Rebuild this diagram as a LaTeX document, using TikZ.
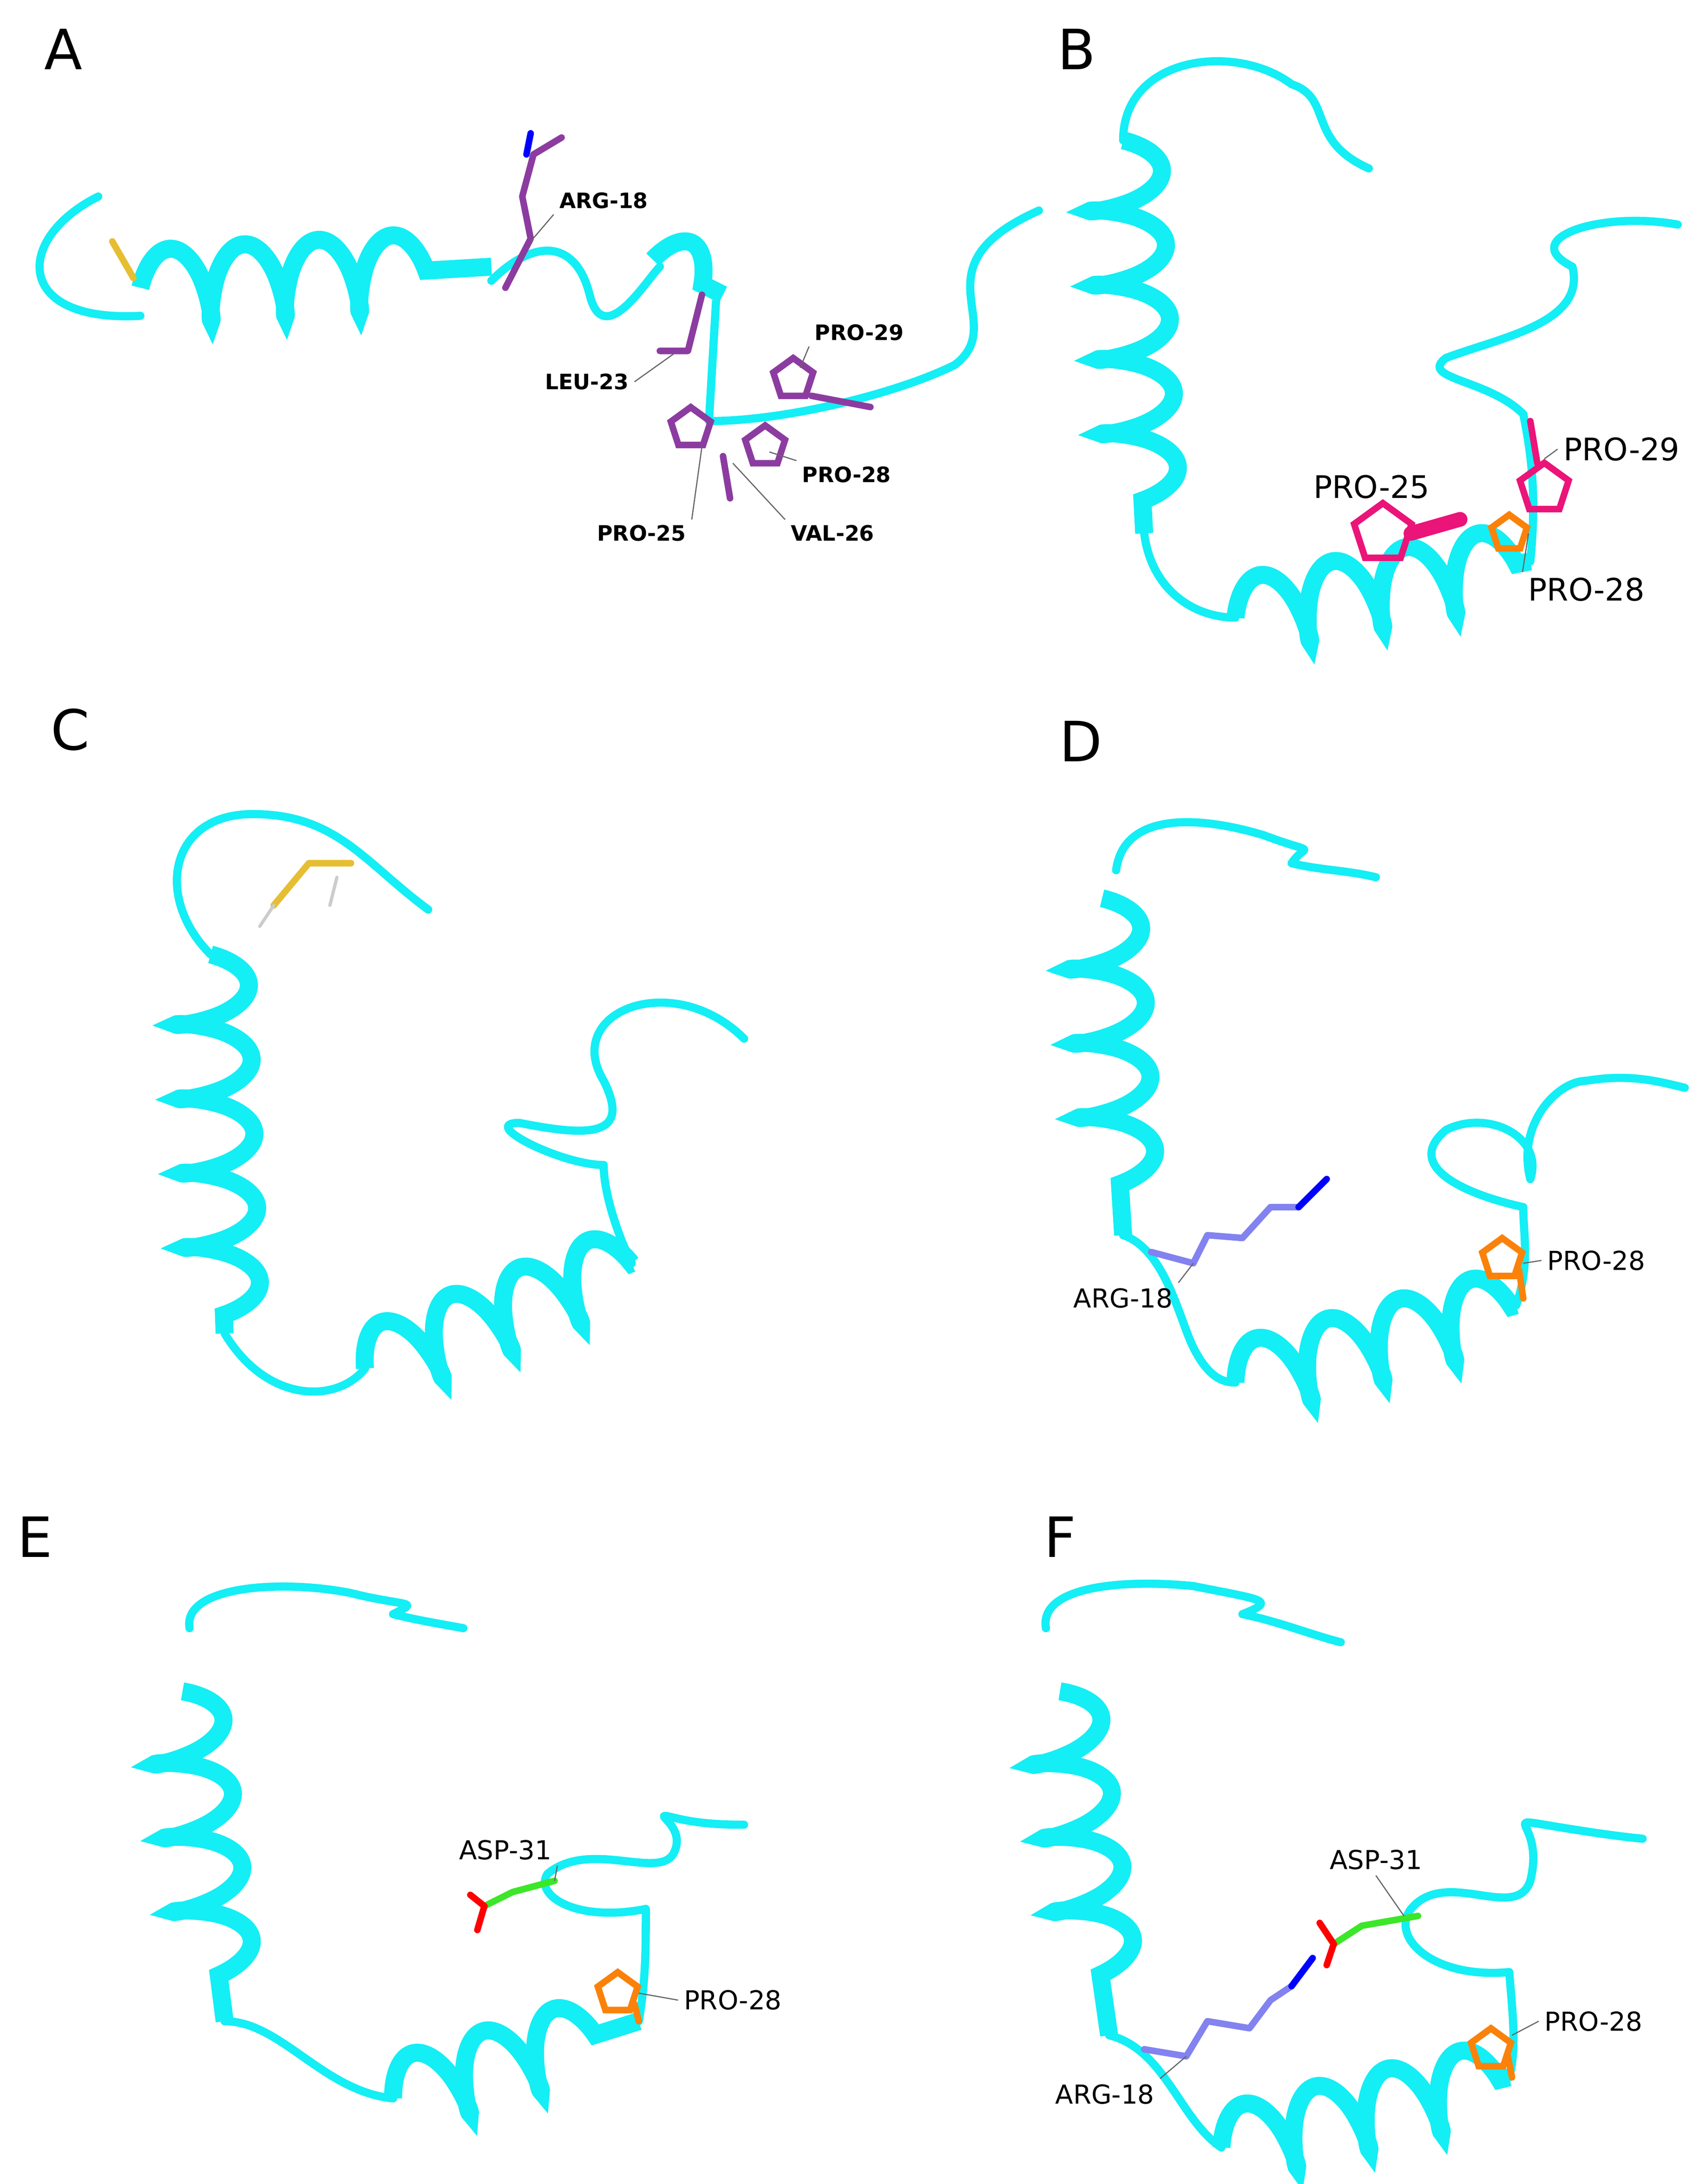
\documentclass[tikz,border=0pt]{standalone}
\usepackage{fontspec}
\setmainfont{DejaVu Sans}
\usetikzlibrary{decorations.pathmorphing,shapes.geometric}
\definecolor{ribbon}{RGB}{20,238,245}
\definecolor{resA}{RGB}{140,60,160}
\definecolor{resPink}{RGB}{235,20,120}
\definecolor{resOrange}{RGB}{250,130,10}
\definecolor{resArg}{RGB}{130,130,240}
\definecolor{resAsp}{RGB}{60,230,40}
\definecolor{resCys}{RGB}{230,190,50}
\tikzset{
  loop/.style={draw=ribbon,line width=5pt,line cap=round,line join=round},
  helix/.style={draw=ribbon,line width=11pt,decorate,
    decoration={coil,aspect=0.35,amplitude=0.8cm,segment length=1.6cm,post length=0pt,pre length=0pt}},
  stick/.style={line width=4pt,line cap=round,line join=round},
  pent/.style={regular polygon,regular polygon sides=5,draw,line width=4pt,minimum size=0.9cm,inner sep=0pt},
  letter/.style={font=\fontsize{34}{40}\selectfont},
  lab/.style={font=\fontsize{16}{18}\selectfont},
  labA/.style={font=\bfseries\fontsize{13}{16}\selectfont},
  lead/.style={draw=black!60,line width=0.7pt}
}
\begin{document}
\begin{tikzpicture}[x=0.0302cm,y=-0.0302cm]
\useasboundingbox (0,0) rectangle (1210,1556);

% Panel A
\node[letter] (pA) at (45,35) {A};
\draw[loop] (70,140) .. controls (10,170) and (10,230) .. (100,225);
\draw[helix] (100,205) -- (350,190);
\draw[stick,resCys] (80,172) -- (95,198);
\draw[loop] (350,200) .. controls (380,170) and (410,170) .. (420,210) .. controls (430,250) and (460,200) .. (470,190);
\draw[helix,decoration={coil,aspect=0.35,amplitude=0.7cm,segment length=1.4cm}] (465,185) -- (515,210);
\draw[loop] (510,215) -- (505,300) .. controls (560,300) and (640,280) .. (680,260) .. controls (720,230) and (650,190) .. (740,150);
\draw[stick,resA] (360,205) -- (378,170) -- (372,140) -- (380,110) -- (400,98);
\draw[stick,blue] (375,110) -- (378,95);
\draw[stick,resA] (500,210) -- (490,250) -- (470,250);
\draw[stick,resA] (515,325) -- (520,355);
\node[pent,resA] (p25) at (492,305) {};
\node[pent,resA] (p28) at (545,318) {};
\node[pent,resA] (p29) at (565,270) {};
\draw[stick,resA] (578,282) -- (620,290);
\node[labA] (lArg) at (430,143) {ARG-18};
\node[labA] (lLeu) at (418,272) {LEU-23};
\node[labA] (lP29) at (612,237) {PRO-29};
\node[labA] (lP28) at (603,338) {PRO-28};
\node[labA] (lV26) at (593,380) {VAL-26};
\node[labA] (lP25) at (457,380) {PRO-25};
\draw[lead] (lArg.south west) -- (378,172);
\draw[lead] (lLeu.east) -- (480,252);
\draw[lead] (lP29.south west) -- (570,262);
\draw[lead] (lP28.north west) -- (548,322);
\draw[lead] (lV26.north west) -- (522,330);
\draw[lead] (lP25.north east) -- (500,318);

% Panel B
\node[letter] (pB) at (767,35) {B};
\draw[loop] (975,120) .. controls (930,100) and (950,70) .. (920,60) .. controls (880,30) and (800,40) .. (800,100);
\draw[helix] (800,100) -- (815,380);
\draw[loop] (815,380) .. controls (820,420) and (850,440) .. (880,440);
\draw[helix] (880,440) -- (1090,400);
\draw[loop] (1090,400) .. controls (1095,350) and (1090,320) .. (1085,295) .. controls (1060,270) and (1010,270) .. (1030,255) .. controls (1070,240) and (1130,230) .. (1120,190) .. controls (1080,170) and (1140,150) .. (1195,160);
\node[pent,resPink,minimum size=1.3cm] (p25b) at (985,380) {};
\draw[stick,resPink,line width=9pt] (1005,380) -- (1040,370);
\node[pent,resPink,minimum size=1.1cm] (p29b) at (1100,348) {};
\draw[stick,resPink] (1090,300) -- (1095,330);
\node[pent,resOrange,minimum size=0.8cm] (p28b) at (1075,380) {};
\node[lab,font=\fontsize{19}{22}\selectfont] (lP25b) at (977,347) {PRO-25};
\node[lab,font=\fontsize{19}{22}\selectfont] (lP29b) at (1155,320) {PRO-29};
\node[lab,font=\fontsize{19}{22}\selectfont] (lP28b) at (1130,420) {PRO-28};
\draw[lead] (lP29b.west) -- (p29b.north);
\draw[lead] (lP28b.north west) -- (p28b.east);

% Panel C
\node[letter] (pC) at (50,520) {C};
\draw[loop] (305,648) .. controls (260,615) and (240,580) .. (180,580) .. controls (120,580) and (110,640) .. (150,680);
\draw[stick,resCys] (195,645) -- (220,615) -- (250,615);
\draw[stick,black!20,line width=2pt] (195,645) -- (185,660);
\draw[stick,black!20,line width=2pt] (240,625) -- (235,645);
\draw[helix] (150,680) -- (160,950);
\draw[loop] (160,950) .. controls (190,1000) and (240,1000) .. (260,975);
\draw[helix] (260,975) -- (450,900);
\draw[loop] (450,900) .. controls (440,880) and (430,850) .. (430,830) .. controls (400,830) and (340,800) .. (370,800) .. controls (420,810) and (450,810) .. (430,770) .. controls (400,720) and (480,690) .. (530,740);

% Panel D
\node[letter] (pD) at (770,528) {D};
\draw[loop] (795,620) .. controls (800,580) and (850,580) .. (900,595) .. controls (940,610) and (930,600) .. (920,615) .. controls (940,620) and (960,620) .. (980,625);
\draw[helix] (785,640) -- (800,880);
\draw[loop] (800,880) .. controls (830,890) and (840,940) .. (850,960) .. controls (860,980) and (870,985) .. (880,985);
\draw[helix] (880,985) -- (1080,930);
\draw[loop] (1080,930) .. controls (1090,900) and (1085,880) .. (1085,860) .. controls (1040,850) and (1000,830) .. (1030,805) .. controls (1060,790) and (1100,810) .. (1090,840) .. controls (1080,800) and (1110,770) .. (1130,770) .. controls (1160,765) and (1180,770) .. (1200,775);
\draw[stick,resArg] (820,892) -- (850,900) -- (860,880) -- (885,882) -- (905,860) -- (925,860);
\draw[stick,blue] (925,860) -- (945,840);
\node[pent,resOrange] (p28d) at (1070,897) {};
\draw[stick,resOrange] (1082,905) -- (1085,925);
\node[lab] (lArgD) at (800,925) {ARG-18};
\node[lab] (lP28d) at (1137,898) {PRO-28};
\draw[lead] (lArgD.north east) -- (850,900);
\draw[lead] (lP28d.west) -- (1085,900);

% Panel E
\node[letter] (pE) at (25,1095) {E};
\draw[loop] (135,1160) .. controls (130,1130) and (200,1125) .. (250,1135) .. controls (290,1145) and (300,1140) .. (280,1150) .. controls (300,1155) and (320,1158) .. (330,1160);
\draw[helix] (130,1205) -- (160,1440);
\draw[loop] (160,1440) .. controls (200,1440) and (230,1490) .. (280,1495);
\draw[helix] (280,1495) -- (455,1440);
\draw[loop] (455,1440) .. controls (460,1410) and (460,1390) .. (460,1360) .. controls (410,1370) and (380,1350) .. (390,1335) .. controls (420,1310) and (470,1340) .. (480,1320) .. controls (490,1300) and (460,1290) .. (480,1295) .. controls (500,1300) and (520,1300) .. (530,1300);
\draw[stick,resAsp] (345,1358) -- (365,1348) -- (395,1340);
\draw[stick,red] (345,1358) -- (340,1375);
\draw[stick,red] (345,1358) -- (335,1350);
\node[pent,resOrange] (p28e) at (440,1420) {};
\draw[stick,resOrange] (452,1428) -- (455,1440);
\node[lab] (lAspE) at (360,1318) {ASP-31};
\node[lab] (lP28e) at (522,1425) {PRO-28};
\draw[lead] (lAspE.south east) -- (395,1340);
\draw[lead] (lP28e.west) -- (455,1420);

% Panel F
\node[letter] (pF) at (755,1095) {F};
\draw[loop] (745,1160) .. controls (740,1130) and (800,1125) .. (850,1130) .. controls (900,1140) and (910,1140) .. (885,1150) .. controls (910,1155) and (935,1165) .. (955,1170);
\draw[helix] (755,1205) -- (790,1450);
\draw[loop] (790,1450) .. controls (830,1460) and (840,1510) .. (870,1530);
\draw[helix] (870,1530) -- (1075,1480);
\draw[loop] (1075,1480) .. controls (1080,1460) and (1078,1440) .. (1075,1405) .. controls (1020,1410) and (990,1380) .. (1005,1360) .. controls (1030,1330) and (1080,1370) .. (1090,1340) .. controls (1100,1300) and (1070,1295) .. (1100,1300) .. controls (1130,1305) and (1150,1308) .. (1170,1310);
\draw[stick,resArg] (815,1460) -- (845,1465) -- (860,1440) -- (890,1445) -- (905,1425) -- (920,1415);
\draw[stick,blue] (920,1415) -- (935,1395);
\draw[stick,resAsp] (950,1385) -- (970,1372) -- (1010,1365);
\draw[stick,red] (950,1385) -- (945,1400);
\draw[stick,red] (950,1385) -- (940,1370);
\node[pent,resOrange] (p28f) at (1062,1460) {};
\draw[stick,resOrange] (1074,1465) -- (1077,1480);
\node[lab] (lAspF) at (980,1325) {ASP-31};
\node[lab] (lP28f) at (1135,1440) {PRO-28};
\node[lab] (lArgF) at (787,1492) {ARG-18};
\draw[lead] (lAspF.south) -- (1000,1365);
\draw[lead] (lP28f.west) -- (1077,1450);
\draw[lead] (lArgF.north east) -- (845,1465);
\end{tikzpicture}
\end{document}
